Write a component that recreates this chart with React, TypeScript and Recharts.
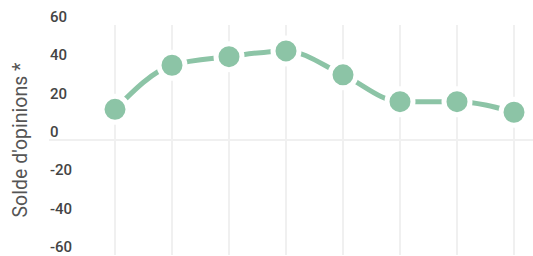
import { LineChart, Line, XAxis, YAxis, ReferenceLine } from 'recharts'

const periods = ['P1', 'P2', 'P3', 'P4', 'P5', 'P6', 'P7', 'P8']
const solde = [16, 39, 43.5, 46.5, 34, 20, 20, 14.5]
const yTicks = [-60, -40, -20, 0, 20, 40, 60]

const data = periods.map((p, i) => ({ period: p, solde: solde[i] }))

const GREEN = '#8cc4a6'
const GRID = '#f0f0f0'

function YTick(props: any) {
  const { y, payload } = props
  return (
    <text x={50} y={y - 3} fill="#444" fontSize={15} fontWeight={500} fontFamily="Roboto" textAnchor="start">
      {payload.value}
    </text>
  )
}

function NoTick() {
  return <g />
}

function YTitle(props: any) {
  const { viewBox } = props
  const cy = viewBox.y + viewBox.height / 2
  return (
    <text
      x={20}
      y={cy}
      transform={`rotate(-90, 20, ${cy})`}
      textAnchor="middle"
      dominantBaseline="central"
      fill="#555"
      fontSize={19.5}
      fontFamily="Roboto"
    >
      Solde d'opinions *
    </text>
  )
}

export default function App() {
  return (
    <div style={{ position: 'absolute', left: 0, top: 0, background: '#fff' }}>
      <LineChart width={533} height={256} data={data} margin={{ top: 25, right: 0, bottom: 1, left: 0 }}>
        <XAxis
          dataKey="period"
          tick={<NoTick />}
          axisLine={false}
          tickLine={false}
          height={0}
          interval={0}
          padding={{ left: 66, right: 19 }}
        />
        <YAxis
          width={49}
          domain={[-60, 60]}
          ticks={yTicks}
          interval={0}
          axisLine={false}
          tickLine={false}
          tick={<YTick />}
          label={<YTitle />}
        />
        {periods.map((p) => (
          <ReferenceLine key={p} x={p} stroke={GRID} strokeWidth={2} />
        ))}
        <ReferenceLine y={0} stroke={GRID} strokeWidth={2} />
        <Line
          type="monotone"
          dataKey="solde"
          stroke={GREEN}
          strokeWidth={5}
          dot={{ r: 13, fill: GREEN, stroke: '#fff', strokeWidth: 5 }}
          activeDot={false}
          isAnimationActive={false}
        />
      </LineChart>
    </div>
  )
}
